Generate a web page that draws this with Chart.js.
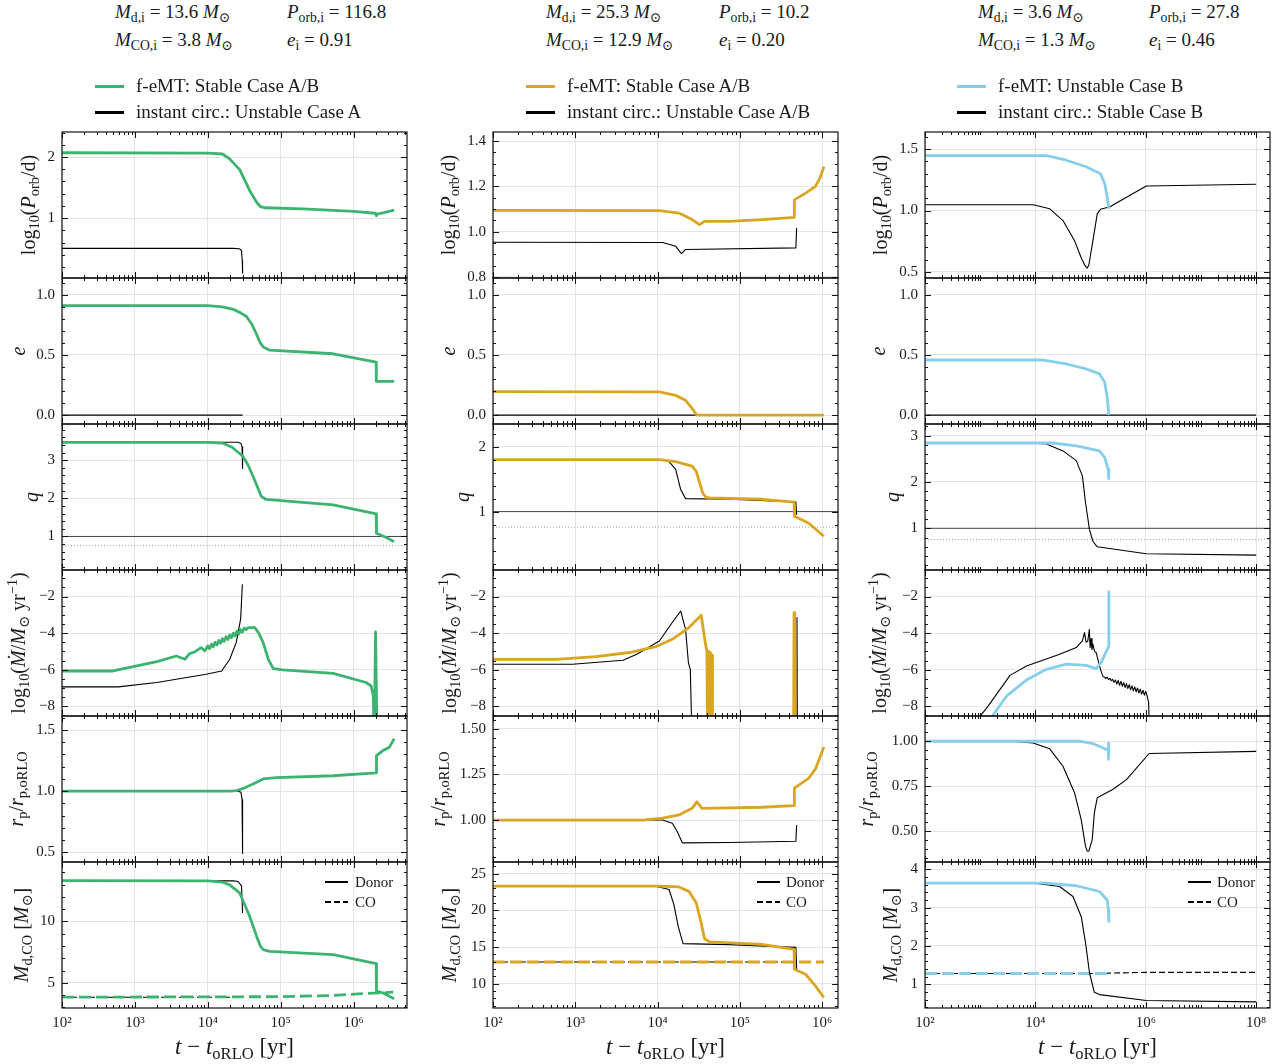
<!DOCTYPE html>
<html>
<head>
<meta charset="utf-8">
<script src="https://cdn.jsdelivr.net/npm/chart.js@4.4.0/dist/chart.umd.min.js"></script>
<style>
  body { margin: 0; background: #fff; }
  #fig { position: relative; width: 1281px; height: 1064px; background: #fff; overflow: hidden;
         font-family: "Liberation Serif", "DejaVu Serif", serif; color: #1a1a1a; }
  #fig canvas { position: absolute; z-index: 1; }
  .t, .lg, .mini, .sw, .yl, .xl { z-index: 2; }
  .t { position: absolute; white-space: nowrap; font-size: 19px; line-height: 22px; }
  .lg { position: absolute; white-space: nowrap; font-size: 19px; line-height: 22px; }
  .mini { position: absolute; white-space: nowrap; font-size: 15px; line-height: 18px; }
  .sw { position: absolute; }
  .yl { position: absolute; white-space: nowrap; font-size: 20px; transform: translate(-50%, -50%) rotate(-90deg); }
  .xl { position: absolute; white-space: nowrap; font-size: 23px; transform: translate(-50%, -50%); }
  sub { font-size: 0.72em; vertical-align: -0.3em; line-height: 0; }
  sup { font-size: 0.72em; vertical-align: 0.5em; line-height: 0; }
</style>
</head>
<body>
<div id="fig">
  <!-- initial parameters -->
  <div class="t" style="left:115px;top:1px"><i>M</i><sub>d,i</sub> = 13.6 <i>M</i><sub>⊙</sub></div>
  <div class="t" style="left:287px;top:1px"><i>P</i><sub>orb,i</sub> = 116.8</div>
  <div class="t" style="left:115px;top:29px"><i>M</i><sub>CO,i</sub> = 3.8 <i>M</i><sub>⊙</sub></div>
  <div class="t" style="left:287px;top:29px"><i>e</i><sub>i</sub> = 0.91</div>

  <div class="t" style="left:546px;top:1px"><i>M</i><sub>d,i</sub> = 25.3 <i>M</i><sub>⊙</sub></div>
  <div class="t" style="left:719px;top:1px"><i>P</i><sub>orb,i</sub> = 10.2</div>
  <div class="t" style="left:546px;top:29px"><i>M</i><sub>CO,i</sub> = 12.9 <i>M</i><sub>⊙</sub></div>
  <div class="t" style="left:719px;top:29px"><i>e</i><sub>i</sub> = 0.20</div>

  <div class="t" style="left:978px;top:1px"><i>M</i><sub>d,i</sub> = 3.6 <i>M</i><sub>⊙</sub></div>
  <div class="t" style="left:1149px;top:1px"><i>P</i><sub>orb,i</sub> = 27.8</div>
  <div class="t" style="left:978px;top:29px"><i>M</i><sub>CO,i</sub> = 1.3 <i>M</i><sub>⊙</sub></div>
  <div class="t" style="left:1149px;top:29px"><i>e</i><sub>i</sub> = 0.46</div>

  <!-- legends -->
  <div class="sw" style="left:95px;top:85px;width:29px;height:3px;background:#3CB371"></div>
  <div class="lg" style="left:136px;top:75px">f-eMT: Stable Case A/B</div>
  <div class="sw" style="left:95px;top:111px;width:29px;height:2.5px;background:#000"></div>
  <div class="lg" style="left:136px;top:101px">instant circ.: Unstable Case A</div>

  <div class="sw" style="left:526px;top:85px;width:29px;height:3px;background:#DAA520"></div>
  <div class="lg" style="left:567px;top:75px">f-eMT: Stable Case A/B</div>
  <div class="sw" style="left:526px;top:111px;width:29px;height:2.5px;background:#000"></div>
  <div class="lg" style="left:567px;top:101px">instant circ.: Unstable Case A/B</div>

  <div class="sw" style="left:957px;top:85px;width:29px;height:3px;background:#87CEEB"></div>
  <div class="lg" style="left:998px;top:75px">f-eMT: Unstable Case B</div>
  <div class="sw" style="left:957px;top:111px;width:29px;height:2.5px;background:#000"></div>
  <div class="lg" style="left:998px;top:101px">instant circ.: Stable Case B</div>

  <!-- donor / CO keys -->
  <div class="sw" style="left:325px;top:881px;width:23px;height:1.5px;background:#000"></div>
  <div class="mini" style="left:355px;top:873px">Donor</div>
  <div class="sw" style="left:325px;top:901px;width:23px;height:1.5px;background:repeating-linear-gradient(90deg,#000 0 6px,transparent 6px 9px)"></div>
  <div class="mini" style="left:355px;top:893px">CO</div>

  <div class="sw" style="left:757px;top:881px;width:23px;height:1.5px;background:#000"></div>
  <div class="mini" style="left:786px;top:873px">Donor</div>
  <div class="sw" style="left:757px;top:901px;width:23px;height:1.5px;background:repeating-linear-gradient(90deg,#000 0 6px,transparent 6px 9px)"></div>
  <div class="mini" style="left:786px;top:893px">CO</div>

  <div class="sw" style="left:1188px;top:881px;width:23px;height:1.5px;background:#000"></div>
  <div class="mini" style="left:1217px;top:873px">Donor</div>
  <div class="sw" style="left:1188px;top:901px;width:23px;height:1.5px;background:repeating-linear-gradient(90deg,#000 0 6px,transparent 6px 9px)"></div>
  <div class="mini" style="left:1217px;top:893px">CO</div>
</div>

<script>
// ---- column 1: M_d,i = 13.6, P_orb,i = 116.8 ----
const C1_F_PORB = [[1e2,2.07],[1e4,2.065],[1.585e4,2.05],[1.995e4,1.97],[2.754e4,1.79],[3.758e4,1.45],[4.677e4,1.26],[5.248e4,1.19],[6.026e4,1.17],[2e5,1.15],[1e6,1.11],[2.0e6,1.08],[2.05e6,1.04],[2.15e6,1.07],[2.6e6,1.09],[3.6e6,1.13]];
const C1_I_PORB = [[1e2,0.505],[2.2e4,0.505],[2.7e4,0.50],[2.9e4,0.47],[2.97e4,0.3],[3.0e4,0.1]];
const C1_F_E = [[1e2,0.91],[1e4,0.91],[1.585e4,0.90],[2.239e4,0.88],[2.818e4,0.85],[3.388e4,0.82],[3.981e4,0.76],[4.677e4,0.67],[5.248e4,0.60],[5.754e4,0.567],[7.079e4,0.54],[5.25e5,0.51],[2.04e6,0.44],[2.05e6,0.28],[3.6e6,0.28]];
const C1_I_E = [[1e2,0],[3.0e4,0]];
const C1_F_Q = [[1e2,3.47],[1e4,3.47],[1.585e4,3.45],[2.15e4,3.34],[3.0e4,3.11],[3.55e4,2.88],[4.17e4,2.58],[5.43e4,2.05],[6.3e4,1.97],[5.25e5,1.83],[2.04e6,1.59],[2.06e6,1.08],[2.27e6,1.05],[2.8e6,0.97],[3.6e6,0.86]];
const C1_I_Q = [[1e2,3.47],[2.6e4,3.47],[2.85e4,3.44],[2.95e4,3.35],[3.0e4,2.78]];
const C1_F_MDOT = [[1e2,-6.07],[5e2,-6.07],[9.5e2,-5.83],[2e3,-5.56],[3.7e3,-5.25],[4.84e3,-5.43],[5.62e3,-5.12],[6.6e3,-5.03],[8.1e3,-4.79],[9.1e3,-4.97],
  [1.0e4,-4.70],[1.059e4,-4.85],[1.122e4,-4.60],[1.189e4,-4.75],[1.259e4,-4.50],[1.334e4,-4.65],[1.413e4,-4.40],[1.496e4,-4.55],[1.585e4,-4.30],[1.679e4,-4.45],[1.778e4,-4.20],[1.884e4,-4.35],[1.995e4,-4.10],[2.113e4,-4.25],[2.239e4,-4.00],[2.371e4,-4.15],[2.512e4,-3.90],[2.661e4,-4.05],[2.818e4,-3.80],[2.985e4,-3.95],[3.162e4,-3.72],[3.35e4,-3.82],[3.548e4,-3.70],
  [4.0e4,-3.70],[4.4e4,-3.69],[5.0e4,-4.0],[5.75e4,-4.52],[6.76e4,-5.43],[7.9e4,-5.94],[1.07e5,-6.01],[5.25e5,-6.2],[1.48e6,-6.7],[1.74e6,-6.89],[1.86e6,-7.44],[1.92e6,-10],[2.0e6,-3.94],[2.1e6,-10]];
const C1_I_MDOT = [[1e2,-6.94],[5.9e2,-6.94],[2e3,-6.7],[9.5e3,-6.25],[1.55e4,-6.07],[2.0e4,-5.43],[2.45e4,-4.52],[2.82e4,-3.24],[2.98e4,-1.33]];
const C1_F_RP = [[1e2,1.0],[2.0e4,1.0],[2.5e4,1.005],[3.0e4,1.02],[4.17e4,1.058],[5.75e4,1.10],[8.7e4,1.11],[5.25e5,1.126],[2.04e6,1.15],[2.06e6,1.29],[2.5e6,1.33],[3.1e6,1.36],[3.6e6,1.43]];
const C1_I_RP = [[1e2,1.0],[2.6e4,1.0],[2.85e4,0.99],[2.95e4,0.93],[3.0e4,0.49]];
const C1_F_MD = [[1e2,13.33],[1e4,13.3],[1.585e4,13.2],[2.0e4,12.98],[2.75e4,12.3],[3.76e4,10.4],[4.68e4,8.78],[5.25e4,8.0],[5.75e4,7.70],[7.08e4,7.56],[5.25e5,7.30],[2.04e6,6.57],[2.06e6,4.32],[2.5e6,4.19],[3.6e6,3.70]];
const C1_I_MD = [[1e2,13.33],[2.24e4,13.3],[2.6e4,13.25],[2.9e4,12.9],[3.0e4,10.68]];
const C1_F_MCO = [[1e2,3.83],[1e5,3.87],[5.25e5,3.97],[1.48e6,4.13],[3.5e6,4.24]];
const C1_I_MCO = [[1e2,3.83],[3.0e4,3.83]];

// ---- column 2: M_d,i = 25.3, P_orb,i = 10.2 ----
const C2_F_PORB = [[1e2,1.094],[1.05e4,1.093],[1.82e4,1.082],[2.63e4,1.053],[3.24e4,1.031],[3.72e4,1.045],[7.4e4,1.045],[1.86e5,1.053],[4.57e5,1.063],[4.6e5,1.14],[6.3e5,1.17],[8.3e5,1.20],[9.5e5,1.24],[1.05e6,1.287]];
const C2_I_PORB = [[1e2,0.953],[1.15e4,0.952],[1.66e4,0.935],[1.95e4,0.903],[2.19e4,0.921],[4.8e5,0.928],[4.9e5,1.016]];
const C2_F_E = [[1e2,0.195],[1.05e4,0.193],[1.66e4,0.164],[2.19e4,0.123],[2.63e4,0.055],[3.0e4,0],[1.05e6,0]];
const C2_I_E = [[1e2,0],[4.9e5,0]];
const C2_F_Q = [[1e2,1.80],[1.05e4,1.80],[1.66e4,1.77],[2.63e4,1.70],[2.95e4,1.62],[3.24e4,1.45],[3.55e4,1.28],[3.9e4,1.22],[4.27e4,1.21],[1.86e5,1.19],[4.57e5,1.145],[4.6e5,0.93],[6.9e5,0.82],[1.05e6,0.62]];
const C2_I_Q = [[1e2,1.80],[1.15e4,1.80],[1.38e4,1.77],[1.66e4,1.65],[1.91e4,1.34],[2.19e4,1.20],[7.4e4,1.19],[4.8e5,1.15],[4.9e5,0.95]];
const C2_F_MDOT = [[1e2,-5.43],[5.9e2,-5.43],[1.78e3,-5.28],[4.57e3,-5.06],[9.5e3,-4.74],[1.51e4,-4.34],[2.4e4,-3.70],[3.39e4,-3.02],[3.8e4,-4.52],[3.98e4,-4.97],[4.05e4,-10],[4.12e4,-5.0],[4.2e4,-10],[4.28e4,-5.05],[4.36e4,-10],[4.44e4,-5.1],[4.52e4,-10],[4.6e4,-5.2],[4.65e4,-10],[4.5e5,-10],[4.56e5,-2.88],[4.62e5,-10],[4.68e5,-3.1],[4.75e5,-10]];
const C2_I_MDOT = [[1e2,-5.70],[9.3e2,-5.70],[3.8e3,-5.48],[5.6e3,-5.16],[1.05e4,-4.43],[1.51e4,-3.42],[1.91e4,-2.79],[2.19e4,-3.79],[2.37e4,-5.61],[2.5e4,-5.98],[2.63e4,-10],[4.9e5,-10],[4.95e5,-3.15],[5.0e5,-10]];
const C2_F_RP = [[1e2,1.0],[6.6e3,1.0],[1.15e4,1.01],[1.82e4,1.028],[2.63e4,1.064],[3.0e4,1.10],[3.47e4,1.064],[1.86e5,1.07],[4.57e5,1.079],[4.6e5,1.175],[6.9e5,1.23],[8.3e5,1.28],[1.05e6,1.40]];
const C2_I_RP = [[1e2,1.0],[1.15e4,1.0],[1.51e4,0.982],[1.74e4,0.936],[2.0e4,0.875],[7.4e4,0.877],[4.8e5,0.884],[4.9e5,0.972]];
const C2_F_MD = [[1e2,23.3],[1.05e4,23.3],[1.82e4,23.2],[2.4e4,22.6],[2.95e4,21.05],[3.39e4,18.3],[3.72e4,16.15],[4.27e4,15.7],[1.86e5,15.38],[4.57e5,14.70],[4.6e5,11.98],[6.3e5,11.30],[8.3e5,9.71],[1.05e6,8.13]];
const C2_I_MD = [[1e2,23.3],[9.5e3,23.3],[1.38e4,22.85],[1.58e4,20.8],[1.78e4,17.87],[2.04e4,15.47],[7.4e4,15.34],[4.8e5,14.97],[4.9e5,12.0]];
const C2_F_MCO = [[1e2,12.97],[1.05e6,12.97]];
const C2_I_MCO = [[1e2,12.97],[4.9e5,12.97]];

// ---- column 3: M_d,i = 3.6, P_orb,i = 27.8 ----
const C3_F_PORB = [[1e2,1.448],[1.58e4,1.448],[3.63e4,1.41],[8.3e4,1.357],[1.51e5,1.30],[1.8e5,1.22],[2.0e5,1.11],[2.14e5,1.014]];
const C3_I_PORB = [[1e2,1.047],[9.1e3,1.047],[1.82e4,1.014],[3.16e4,0.918],[5.13e4,0.753],[6.76e4,0.615],[7.94e4,0.55],[8.7e4,0.53],[9.33e4,0.56],[1.1e5,0.753],[1.32e5,0.973],[1.51e5,1.01],[2.24e5,1.03],[1.02e6,1.20],[1e8,1.214]];
const C3_F_E = [[1e2,0.458],[1.4e4,0.458],[3.63e4,0.425],[8.3e4,0.384],[1.45e5,0.343],[1.8e5,0.274],[2.0e5,0.15],[2.14e5,0]];
const C3_I_E = [[1e2,0],[1e8,0]];
const C3_F_Q = [[1e2,2.84],[2.1e4,2.84],[5.5e4,2.78],[1.45e5,2.67],[1.8e5,2.53],[2.07e5,2.28],[2.14e5,2.07]];
const C3_I_Q = [[1e2,2.84],[9.1e3,2.84],[1.58e4,2.82],[3.16e4,2.67],[5.5e4,2.46],[7.1e4,2.13],[8.1e4,1.55],[9.55e4,0.97],[1.1e5,0.72],[1.32e5,0.60],[1.02e6,0.45],[1e8,0.42]];
const C3_F_MDOT = [[1.3e3,-9.0],[3.0e3,-7.44],[6.9e3,-6.56],[1.58e4,-5.98],[3.63e4,-5.70],[8.3e4,-5.76],[1.26e5,-5.94],[1.55e5,-5.61],[2.07e5,-4.79],[2.14e5,-1.69]];
const C3_I_MDOT = [[7.6e2,-9.0],[1.4e3,-7.98],[3.47e3,-6.31],[6.9e3,-5.80],[2.75e4,-5.16],[5.5e4,-4.79],[7.1e4,-4.43],[7.76e4,-3.97],[8.3e4,-4.5],[8.9e4,-4.43],[9.5e4,-3.79],[9.8e4,-4.79],[1.02e5,-4.3],[1.06e5,-4.9],[1.1e5,-4.6],[1.18e5,-5.0],[1.26e5,-5.06],[1.51e5,-5.98],[1.68e5,-6.38],
  [1.778e5,-6.40],[1.884e5,-6.48],[1.995e5,-6.41],[2.113e5,-6.54],[2.239e5,-6.47],[2.371e5,-6.60],[2.512e5,-6.53],[2.661e5,-6.68],[2.818e5,-6.56],[2.985e5,-6.79],[3.162e5,-6.58],[3.35e5,-6.85],[3.548e5,-6.64],[3.758e5,-6.91],[3.981e5,-6.70],[4.217e5,-6.97],[4.467e5,-6.76],[4.732e5,-7.03],[5.012e5,-6.82],[5.309e5,-7.09],[5.623e5,-6.88],[5.957e5,-7.15],[6.31e5,-6.94],[6.683e5,-7.21],[7.079e5,-7.00],[7.499e5,-7.27],[7.943e5,-7.06],[8.414e5,-7.33],[8.913e5,-7.12],[9.441e5,-7.39],[1.0e6,-7.18],
  [1.059e6,-7.45],[1.122e6,-7.76],[1.189e6,-10]];
const C3_F_RP = [[1e2,1.0],[6.3e4,1.0],[1.1e5,0.987],[1.8e5,0.958],[2.0e5,0.954],[2.08e5,0.96],[2.1e5,0.99],[2.12e5,0.93],[2.14e5,0.90]];
const C3_I_RP = [[1e2,1.0],[3.47e3,1.0],[9.1e3,0.99],[1.82e4,0.958],[3.16e4,0.861],[5.13e4,0.713],[6.76e4,0.565],[8.1e4,0.417],[8.7e4,0.39],[9.3e4,0.39],[1.07e5,0.454],[1.17e5,0.602],[1.32e5,0.686],[2.51e5,0.732],[4.47e5,0.787],[1.15e6,0.932],[1e8,0.944]];
const C3_F_MD = [[1e2,3.64],[1.58e4,3.64],[5.5e4,3.57],[1.45e5,3.42],[2.0e5,3.20],[2.1e5,2.95],[2.14e5,2.64]];
const C3_I_MD = [[1e2,3.64],[9.1e3,3.64],[2.75e4,3.55],[4.79e4,3.29],[6.76e4,2.77],[8.1e4,2.08],[9.55e4,1.30],[1.17e5,0.79],[1.45e5,0.73],[1.02e6,0.576],[1e8,0.54]];
const C3_F_MCO = [[1e2,1.28],[2.14e5,1.28]];
const C3_I_MCO = [[1e2,1.28],[1e5,1.28],[1e6,1.31],[1e8,1.31]];

// reference mass ratios drawn in the q panels
const Q_UNITY = 1;
const Q_CRIT = 0.76;

// axes
const X_MAX = [5.4e6, 1.56e6, 1.78e8];
const X_MAJOR = [[1e2, 1e3, 1e4, 1e5, 1e6], [1e2, 1e3, 1e4, 1e5, 1e6], [1e2, 1e4, 1e6, 1e8]];
// [min, max, major step, minor step, decimals]
const Y_AXES = [
  [[0.02, 2.41, 1, 0.2, 0], [-0.074, 1.14, 0.5, 0.1, 1], [0.12, 3.95, 1, 0.2, 0], [-8.53, -0.55, 2, 0.5, 0], [0.42, 1.615, 0.5, 0.1, 1], [2.95, 14.84, 5, 1, 0]],
  [[0.795, 1.44, 0.2, 0.05, 1], [-0.074, 1.14, 0.5, 0.1, 1], [0.10, 2.35, 1, 0.2, 0], [-8.53, -0.55, 2, 0.5, 0], [0.77, 1.57, 0.25, 0.05, 2], [6.7, 26.6, 5, 1, 0]],
  [[0.45, 1.64, 0.5, 0.1, 1], [-0.074, 1.14, 0.5, 0.1, 1], [0.10, 3.25, 1, 0.2, 0], [-8.53, -0.55, 2, 0.5, 0], [0.33, 1.14, 0.25, 0.05, 2], [0.38, 4.19, 1, 0.2, 0]]
];

const PANELS = [
  [[C1_F_PORB, C1_I_PORB], [C1_F_E, C1_I_E], [C1_F_Q, C1_I_Q], [C1_F_MDOT, C1_I_MDOT], [C1_F_RP, C1_I_RP], [C1_F_MD, C1_I_MD, C1_F_MCO, C1_I_MCO]],
  [[C2_F_PORB, C2_I_PORB], [C2_F_E, C2_I_E], [C2_F_Q, C2_I_Q], [C2_F_MDOT, C2_I_MDOT], [C2_F_RP, C2_I_RP], [C2_F_MD, C2_I_MD, C2_F_MCO, C2_I_MCO]],
  [[C3_F_PORB, C3_I_PORB], [C3_F_E, C3_I_E], [C3_F_Q, C3_I_Q], [C3_F_MDOT, C3_I_MDOT], [C3_F_RP, C3_I_RP], [C3_F_MD, C3_I_MD, C3_F_MCO, C3_I_MCO]]
];

const COLORS = ['#3CB371', '#DAA520', '#87CEEB'];
const Y_TITLES = [
  'log<sub>10</sub>(<i>P</i><sub>orb</sub>/d)',
  '<i>e</i>',
  '<i>q</i>',
  'log<sub>10</sub>(<i>Ṁ</i>/<i>M</i><sub>⊙</sub> yr<sup>−1</sup>)',
  '<i>r</i><sub>p</sub>/<i>r</i><sub>p,oRLO</sub>',
  '<i>M</i><sub>d,CO</sub> [<i>M</i><sub>⊙</sub>]'
];
const X_TITLE = '<i>t</i> − <i>t</i><sub>oRLO</sub> [yr]';

// layout
const FONT = '"Liberation Serif", "DejaVu Serif", serif';
const PLOT_LEFT = [62, 493, 925];
const PLOT_W = 345, ROW_TOP = 132, ROW_H = 146, YW = 60, PAD = 10, XH = 32;
const YT_X = [[28, 18, 31, 18, 16, 21], [448, 448, 462, 449, 438, 449], [880, 878, 892, 879, 866, 890]];

const SUP = { '0': '⁰', '1': '¹', '2': '²', '3': '³', '4': '⁴', '5': '⁵', '6': '⁶', '7': '⁷', '8': '⁸', '9': '⁹' };

// inward ticks on all four sides + box
function makeFrame(majors, step, minor) {
  return {
    id: 'frame',
    afterDraw(chart) {
      const { ctx, chartArea: a } = chart;
      const xs = chart.scales.x, ys = chart.scales.y;
      ctx.save();
      ctx.strokeStyle = '#111';
      ctx.lineWidth = 1;
      ctx.beginPath();
      const tx = (v, len) => {
        const p = Math.round(xs.getPixelForValue(v)) + 0.5;
        ctx.moveTo(p, a.bottom); ctx.lineTo(p, a.bottom - len);
        ctx.moveTo(p, a.top); ctx.lineTo(p, a.top + len);
      };
      const ty = (v, len) => {
        const p = Math.round(ys.getPixelForValue(v)) + 0.5;
        ctx.moveTo(a.left, p); ctx.lineTo(a.left + len, p);
        ctx.moveTo(a.right, p); ctx.lineTo(a.right - len, p);
      };
      const n0 = Math.floor(Math.log10(xs.min)), n1 = Math.ceil(Math.log10(xs.max));
      for (let n = n0; n <= n1; n++) {
        for (let k = 1; k <= 9; k++) {
          const v = k * Math.pow(10, n);
          if (v < xs.min * 0.9999 || v > xs.max * 1.0001) continue;
          tx(v, majors.some(m => Math.abs(m / v - 1) < 1e-6) ? 6 : 3);
        }
      }
      const ratio = Math.round(step / minor);
      for (let i = Math.ceil(ys.min / minor - 1e-9); i * minor <= ys.max + 1e-9; i++) {
        ty(i * minor, ((i % ratio) + ratio) % ratio === 0 ? 6 : 3);
      }
      ctx.stroke();
      ctx.lineWidth = 1.2;
      ctx.strokeRect(a.left, a.top, a.right - a.left, a.bottom - a.top);
      ctx.restore();
    }
  };
}

function series(data, color, width, dash) {
  return {
    data: data,
    borderColor: color,
    borderWidth: width,
    borderDash: dash || [],
    borderJoinStyle: 'round',
    pointRadius: 0,
    tension: 0,
    fill: false,
    clip: 0
  };
}

const fig = document.getElementById('fig');

for (let c = 0; c < 3; c++) {
  for (let r = 0; r < 6; r++) {
    const last = r === 5;
    const [ymin, ymax, step, minor, dec] = Y_AXES[c][r];
    const cv = document.createElement('canvas');
    cv.width = YW + PLOT_W + PAD;
    cv.height = PAD + ROW_H + (last ? XH : PAD);
    cv.style.left = (PLOT_LEFT[c] - YW) + 'px';
    cv.style.top = (ROW_TOP + r * ROW_H - PAD) + 'px';
    fig.appendChild(cv);

    const p = PANELS[c][r];
    const datasets = [series(p[0], COLORS[c], 2.8), series(p[1], '#000', 1.1)];
    if (p[2]) {
      datasets.push(series(p[2], COLORS[c], 2.8, [12, 5]));
      datasets.push(series(p[3], '#000', 1.1, [6, 3]));
    }
    if (r === 2) {
      datasets.push(series([[1e2, Q_UNITY], [X_MAX[c], Q_UNITY]], '#333', 0.9));
      datasets.push(series([[1e2, Q_CRIT], [X_MAX[c], Q_CRIT]], '#999', 0.9, [1, 2]));
    }

    new Chart(cv, {
      type: 'line',
      data: { datasets: datasets },
      options: {
        responsive: false,
        animation: false,
        devicePixelRatio: 1,
        events: [],
        layout: { padding: { left: 0, top: PAD, right: PAD, bottom: last ? 0 : PAD } },
        plugins: { legend: { display: false }, tooltip: { enabled: false } },
        scales: {
          x: {
            type: 'logarithmic',
            min: 100,
            max: X_MAX[c],
            afterBuildTicks: s => { s.ticks = X_MAJOR[c].map(v => ({ value: v })); },
            afterFit: s => { s.height = last ? XH : 0; s.paddingLeft = 0; s.paddingRight = 0; },
            grid: { color: '#e4e4e4', lineWidth: 1, drawTicks: false },
            border: { display: false },
            ticks: {
              display: last,
              autoSkip: false,
              maxRotation: 0,
              padding: 6,
              color: '#1a1a1a',
              font: { family: FONT, size: 15 },
              callback: v => '10' + String(Math.round(Math.log10(v))).split('').map(d => SUP[d]).join('')
            }
          },
          y: {
            type: 'linear',
            min: ymin,
            max: ymax,
            afterBuildTicks: s => {
              const t = [];
              for (let i = Math.ceil(ymin / step - 1e-9); i * step <= ymax + 1e-9; i++) t.push({ value: +(i * step).toFixed(6) });
              s.ticks = t;
            },
            afterFit: s => { s.width = YW; s.paddingTop = 0; s.paddingBottom = 0; },
            grid: { color: '#e4e4e4', lineWidth: 1, drawTicks: false },
            border: { display: false },
            ticks: {
              padding: 7,
              color: '#1a1a1a',
              font: { family: FONT, size: 15 },
              callback: v => (Math.abs(v) < 1e-9 ? 0 : v).toFixed(dec).replace('-', '−')
            }
          }
        }
      },
      plugins: [makeFrame(X_MAJOR[c], step, minor)]
    });

    const yl = document.createElement('div');
    yl.className = 'yl';
    yl.style.left = YT_X[c][r] + 'px';
    yl.style.top = (ROW_TOP + r * ROW_H + ROW_H / 2) + 'px';
    yl.innerHTML = Y_TITLES[r];
    fig.appendChild(yl);
  }
  const xl = document.createElement('div');
  xl.className = 'xl';
  xl.style.left = (PLOT_LEFT[c] + PLOT_W / 2) + 'px';
  xl.style.top = '1047px';
  xl.innerHTML = X_TITLE;
  fig.appendChild(xl);
}
</script>
</body>
</html>
